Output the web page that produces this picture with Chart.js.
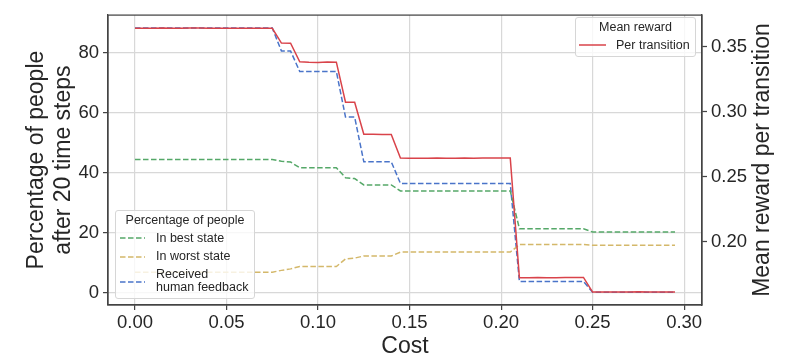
<!DOCTYPE html>
<html><head><meta charset="utf-8">
<script src="https://cdn.jsdelivr.net/npm/chart.js@4.4.1/dist/chart.umd.min.js"></script>
<style>
html,body{margin:0;padding:0;background:#fff;}
#wrap{position:relative;width:801px;height:355px;overflow:hidden;}
canvas{position:absolute;left:0;top:0;}
.lg{position:absolute;background:rgba(255,255,255,0.8);border:1px solid #d6d6d6;border-radius:3px;box-sizing:border-box;font-family:"Liberation Sans",Arial,sans-serif;font-size:12.5px;color:#262626;}
.lg .t{position:absolute;white-space:pre;line-height:15px;}
.lg svg{position:absolute;overflow:visible;}
</style></head>
<body><div id="wrap"><canvas id="c" width="801" height="355"></canvas></div>
<script>
const costs = [0.000,0.005,0.010,0.015,0.020,0.025,0.030,0.035,0.040,0.045,
  0.050,0.055,0.060,0.065,0.070,0.075,0.080,0.085,0.090,0.095,
  0.100,0.105,0.110,0.115,0.120,0.125,0.130,0.135,0.140,0.145,
  0.150,0.155,0.160,0.165,0.170,0.175,0.180,0.185,0.190,0.195,
  0.200,0.205,0.210,0.215,0.220,0.225,0.230,0.235,0.240,0.245,
  0.250,0.255,0.260,0.265,0.270,0.275,0.280,0.285,0.290,0.295];

const rewardPerTransition = [0.3639,0.3640,0.3640,0.3641,0.3640,0.3640,0.3641,0.3641,0.3640,0.3640,
  0.3640,0.3639,0.3640,0.3640,0.3639,0.3639,0.3526,0.3525,0.3382,0.3378,
  0.3376,0.3380,0.3379,0.3071,0.3071,0.2825,0.2824,0.2822,0.2823,0.2643,
  0.2641,0.2640,0.2641,0.2642,0.2640,0.2641,0.2642,0.2641,0.2643,0.2642,
  0.2643,0.2643,0.1722,0.1722,0.1723,0.1722,0.1722,0.1723,0.1723,0.1724,
  0.1611,0.1611,0.1612,0.1611,0.1611,0.1614,0.1612,0.1611,0.1612,0.1611];

const inBestState = [44.5,44.5,44.5,44.5,44.5,44.5,44.5,44.5,44.5,44.5,
  44.5,44.5,44.5,44.5,44.5,44.5,43.9,43.6,41.7,41.7,
  41.7,41.7,41.7,38.4,38.1,36.0,36.0,36.0,36.0,34.0,
  34.0,34.0,34.0,34.0,34.0,34.0,34.0,34.0,34.0,34.0,
  34.0,34.0,21.4,21.4,21.4,21.4,21.4,21.4,21.4,21.4,
  20.3,20.3,20.3,20.3,20.3,20.3,20.3,20.3,20.3,20.3];

const inWorstState = [6.9,6.9,6.9,6.9,6.9,6.9,6.9,6.9,6.9,6.9,
  6.9,6.9,6.9,6.9,6.9,6.9,7.5,8.0,8.8,8.8,
  8.8,8.8,8.8,11.3,11.6,12.3,12.3,12.3,12.3,13.6,
  13.6,13.6,13.6,13.6,13.6,13.6,13.6,13.6,13.6,13.6,
  13.6,13.6,16.1,16.1,16.1,16.1,16.1,16.1,16.1,16.1,
  15.9,15.9,15.9,15.9,15.9,15.9,15.9,15.9,15.9,15.9];

const receivedFeedback = [88.3,88.3,88.3,88.3,88.3,88.3,88.3,88.3,88.3,88.3,
  88.3,88.3,88.3,88.3,88.3,88.3,80.6,80.6,73.8,73.8,
  73.8,73.8,73.8,58.6,58.6,43.7,43.7,43.7,43.7,36.5,
  36.5,36.5,36.5,36.5,36.5,36.5,36.5,36.5,36.5,36.5,
  36.5,36.5,3.8,3.8,3.8,3.8,3.8,3.8,3.8,3.8,
  0.2,0.2,0.2,0.2,0.2,0.2,0.2,0.2,0.2,0.2];

const xTickValues = [0.00,0.05,0.10,0.15,0.20,0.25,0.30];
const yTickValues = [0,20,40,60,80];
const y2TickValues = [0.20,0.25,0.30,0.35];

const FONT = '"Liberation Sans", Arial, sans-serif';
const TXT = '#262626';
const GRID = '#d8d8d8';
const SPINE = '#444444';

function pts(vals){ return costs.map((c,i)=>({x:c,y:vals[i]})); }

const framePlugin = {
  id:'frame',
  afterDatasetsDraw(chart){
    const {ctx, chartArea:a} = chart;
    ctx.save();
    ctx.strokeStyle = SPINE; ctx.lineWidth = 1.25;
    ctx.strokeRect(a.left, a.top, a.right-a.left, a.bottom-a.top);
    ctx.restore();
  },
  afterDraw(chart){
    const {ctx, chartArea:a} = chart;
    ctx.save();
    ctx.translate(763, (a.top+a.bottom)/2);
    ctx.rotate(-Math.PI/2);
    ctx.font = '23px ' + FONT;
    ctx.fillStyle = TXT;
    ctx.textAlign = 'center';
    ctx.textBaseline = 'middle';
    ctx.fillText('Mean reward per transition', 0, 0);
    ctx.restore();
  }
};

const chart = new Chart(document.getElementById('c'), {
  type:'line',
  data:{
    datasets:[
      {label:'Per transition', group:'Mean reward', data:pts(rewardPerTransition), yAxisID:'y2',
       borderColor:'#d9434a', borderWidth:1.5, pointRadius:0, tension:0, fill:false},
      {label:'In best state', group:'Percentage of people', data:pts(inBestState), yAxisID:'y',
       borderColor:'#55a868', borderWidth:1.5, borderDash:[5.5,2.5], pointRadius:0, tension:0, fill:false},
      {label:'In worst state', group:'Percentage of people', data:pts(inWorstState), yAxisID:'y',
       borderColor:'#d4b86a', borderWidth:1.5, borderDash:[5.5,2.5], pointRadius:0, tension:0, fill:false},
      {label:'Received\nhuman feedback', group:'Percentage of people', data:pts(receivedFeedback), yAxisID:'y',
       borderColor:'#4a74c9', borderWidth:1.5, borderDash:[5.5,2.5], pointRadius:0, tension:0, fill:false}
    ]
  },
  options:{
    responsive:false, animation:false, devicePixelRatio:1,
    layout:{padding:{top:11,left:0,right:0,bottom:0}},
    plugins:{legend:{display:false}, tooltip:{enabled:false}},
    scales:{
      x:{type:'linear', position:'bottom', min:-0.01475, max:0.30975,
         afterFit:s=>{s.height=50;},
         afterBuildTicks:s=>{s.ticks = xTickValues.map(v=>({value:v}));},
         ticks:{font:{family:FONT,size:18.5}, color:TXT, padding:1.5, maxRotation:0, autoSkip:false,
                callback:v=>Number(v).toFixed(2)},
         grid:{color:GRID, lineWidth:1.2, tickColor:SPINE, tickLength:5, tickWidth:1.25},
         border:{color:SPINE, width:1.25},
         title:{display:true, text:'Cost', color:TXT, font:{family:FONT,size:23,lineHeight:1}, padding:{top:0,bottom:-3.5}}
      },
      y:{type:'linear', position:'left', min:-4.04, max:92.6,
         afterFit:s=>{s.width=108;},
         afterBuildTicks:s=>{s.ticks = yTickValues.map(v=>({value:v}));},
         ticks:{font:{family:FONT,size:18.5}, color:TXT, padding:4,
                callback:v=>String(Math.round(v))},
         grid:{color:GRID, lineWidth:1.2, tickColor:SPINE, tickLength:5, tickWidth:1.25},
         border:{color:SPINE, width:1.25},
         title:{display:true, text:['Percentage of people','after 20 time steps'], color:TXT,
                font:{family:FONT,size:23,lineHeight:1.174}, padding:{top:23.5,bottom:0}}
      },
      y2:{type:'linear', position:'right', min:0.1512, max:0.3741,
         afterFit:s=>{s.width=99;},
         afterBuildTicks:s=>{s.ticks = y2TickValues.map(v=>({value:v}));},
         ticks:{font:{family:FONT,size:18.5}, color:TXT, padding:4,
                callback:v=>Number(v).toFixed(2)},
         grid:{drawOnChartArea:false, color:GRID, tickColor:SPINE, tickLength:5, tickWidth:1.25},
         border:{color:SPINE, width:1.25}
      }
    }
  },
  plugins:[framePlugin]
});

// HTML legends built from the chart's datasets
function lineSample(ds, x1, x2, y){
  const svg = document.createElementNS('http://www.w3.org/2000/svg','svg');
  svg.setAttribute('width', x2-x1); svg.setAttribute('height', 4);
  svg.style.left = x1+'px'; svg.style.top = (y-2)+'px';
  const ln = document.createElementNS('http://www.w3.org/2000/svg','line');
  ln.setAttribute('x1',0); ln.setAttribute('x2',x2-x1); ln.setAttribute('y1',2); ln.setAttribute('y2',2);
  ln.setAttribute('stroke', ds.borderColor); ln.setAttribute('stroke-width', ds.borderWidth);
  if (ds.borderDash) ln.setAttribute('stroke-dasharray', ds.borderDash.join(' '));
  svg.appendChild(ln);
  return svg;
}
function text(str, left, cy, center, lh){
  const d = document.createElement('div');
  d.className = 't'; d.textContent = str;
  const h = lh || 15;
  d.style.lineHeight = h+'px';
  const lines = str.split('\n').length;
  d.style.top = (cy - h*lines/2)+'px';
  if (center){ d.style.left='0'; d.style.width='100%'; d.style.textAlign='center'; }
  else d.style.left = left+'px';
  return d;
}
function makeLegend(group, box, titleCy, rows, lx1, lx2, tx){
  const wrap = document.getElementById('wrap');
  const el = document.createElement('div');
  el.className = 'lg';
  el.style.left = box[0]+'px'; el.style.top = box[1]+'px';
  el.style.width = box[2]+'px'; el.style.height = box[3]+'px';
  el.appendChild(text(group, 0, titleCy, true));
  const dss = chart.data.datasets.filter(d=>d.group===group);
  dss.forEach((ds,i)=>{
    const r = rows[i];
    el.appendChild(lineSample(ds, lx1, lx2, r.line));
    el.appendChild(text(ds.label, tx, r.text, false, r.lh));
  });
  wrap.appendChild(el);
}
makeLegend('Mean reward', [575,17,121,40], 9.5, [{line:27,text:27}], 3, 30, 40);
makeLegend('Percentage of people', [115,210,140,89], 9.5,
  [{line:27,text:27},{line:45.5,text:45.5},{line:70.5,text:70,lh:13}], 4, 29, 40);
</script>
</body></html>
